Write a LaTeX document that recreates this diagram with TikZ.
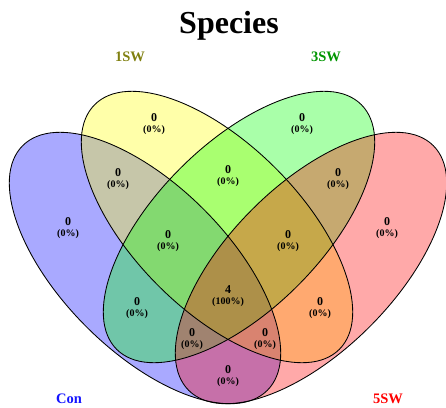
\documentclass[tikz,border=0pt]{standalone}
\usepackage{fontspec}
\setmainfont{Liberation Serif}
\definecolor{conc}{RGB}{0,0,255}
\definecolor{oneswc}{RGB}{255,255,0}
\definecolor{threeswc}{RGB}{0,255,0}
\definecolor{fiveswc}{RGB}{255,0,0}
\definecolor{onelab}{RGB}{128,128,16}
\definecolor{threelab}{RGB}{0,150,0}
\definecolor{conlab}{RGB}{20,20,255}
\definecolor{fivelab}{RGB}{255,0,0}
\tikzset{
  setfill/.style={fill=#1, fill opacity=0.337, draw=none},
  setline/.style={draw=black, line width=0.85pt},
  cnt/.style={inner sep=0pt, font=\fontsize{12}{12}\selectfont\bfseries},
  pct/.style={inner sep=0pt, font=\fontsize{10}{10}\selectfont\bfseries},
  catlab/.style={inner sep=0pt, font=\fontsize{14.5}{14.5}\selectfont\bfseries},
}
\newcommand\regionlabel[5]{%
  \node[cnt] (c#1) at (#2,#3) {#4};
  \node[pct] (p#1) at (#2,#3+12) {(#5)};}
\begin{document}
\begin{tikzpicture}[x=1pt,y=-1pt]
\useasboundingbox (0,0) rectangle (446,407);
% fills
\fill[setfill=conc, rotate around={-45:(145,268)}] (145,268) ellipse [x radius=173, y radius=83];
\fill[setfill=oneswc, rotate around={-45:(217,227)}] (217,227) ellipse [x radius=173, y radius=83];
\fill[setfill=threeswc, rotate around={45:(239,227)}] (239,227) ellipse [x radius=173, y radius=83];
\fill[setfill=fiveswc, rotate around={45:(311,268)}] (311,268) ellipse [x radius=173, y radius=83];
% outlines
\draw[setline, rotate around={-45:(145,268)}] (145,268) ellipse [x radius=173, y radius=83];
\draw[setline, rotate around={-45:(217,227)}] (217,227) ellipse [x radius=173, y radius=83];
\draw[setline, rotate around={45:(239,227)}] (239,227) ellipse [x radius=173, y radius=83];
\draw[setline, rotate around={45:(311,268)}] (311,268) ellipse [x radius=173, y radius=83];
% title and category labels
\node[inner sep=0pt, anchor=base, font=\fontsize{32}{32}\selectfont\bfseries] (title) at (229,33) {Species};
\node[catlab, text=onelab] (l1) at (130,57) {1SW};
\node[catlab, text=threelab] (l3) at (326,57) {3SW};
\node[catlab, text=conlab] (lc) at (69,399) {Con};
\node[catlab, text=fivelab] (l5) at (388,399) {5SW};
% region labels
\regionlabel{a}{68}{222}{0}{0\%}
\regionlabel{b}{154}{118}{0}{0\%}
\regionlabel{c}{302}{118}{0}{0\%}
\regionlabel{d}{387}{222}{0}{0\%}
\regionlabel{e}{118}{173}{0}{0\%}
\regionlabel{f}{228}{170}{0}{0\%}
\regionlabel{g}{338}{173}{0}{0\%}
\regionlabel{h}{168}{235}{0}{0\%}
\regionlabel{i}{288}{235}{0}{0\%}
\regionlabel{j}{137}{302}{0}{0\%}
\regionlabel{k}{228}{290}{4}{100\%}
\regionlabel{l}{320}{302}{0}{0\%}
\regionlabel{m}{192}{333}{0}{0\%}
\regionlabel{n}{265}{333}{0}{0\%}
\regionlabel{o}{228}{370}{0}{0\%}
\end{tikzpicture}
\end{document}
